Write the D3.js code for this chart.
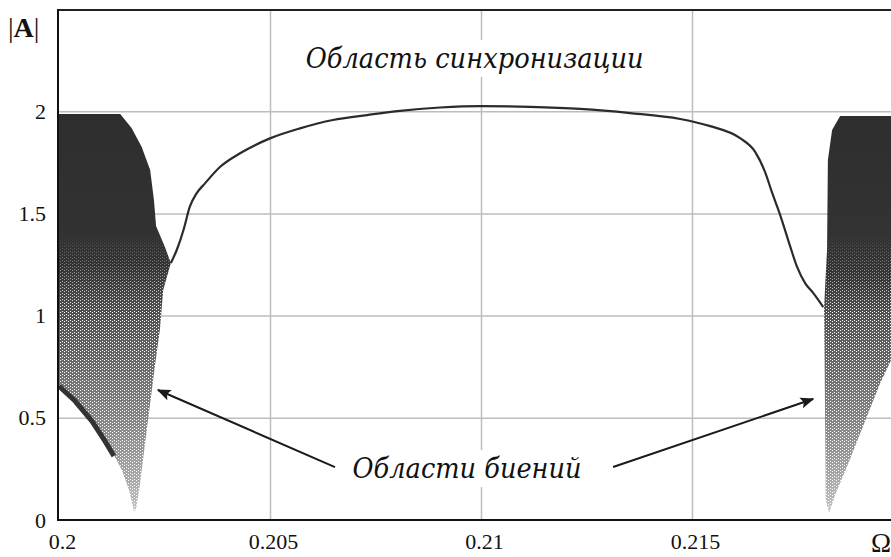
<!DOCTYPE html>
<html>
<head>
<meta charset="utf-8">
<script src="https://cdn.jsdelivr.net/npm/d3@7"></script>
<style>
  body { margin: 0; background: #fff; }
  text { font-family: "Liberation Serif", "DejaVu Serif", serif; }
</style>
</head>
<body>
<div id="chart"></div>
<script>
// synchronization branch |A|(Omega)
const syncOmega = [0.20265, 0.20279, 0.20295, 0.2031, 0.20326, 0.20346, 0.20382, 0.20429, 0.205, 0.20571,
  0.20649, 0.2073, 0.20808, 0.20903, 0.21, 0.21116, 0.21235, 0.21353, 0.21472, 0.21543,
  0.21614, 0.2165, 0.21673, 0.2169, 0.21709, 0.21733, 0.21749, 0.21768, 0.21787, 0.21811];
const syncAmp = [1.257, 1.321, 1.419, 1.533, 1.598, 1.647, 1.728, 1.794, 1.867, 1.916,
  1.957, 1.981, 2.002, 2.018, 2.025, 2.021, 2.011, 1.991, 1.962, 1.927,
  1.868, 1.8, 1.703, 1.6, 1.492, 1.336, 1.238, 1.159, 1.111, 1.042];

// outline of the left beating region (upper edge, right edge down, lower edge back)
const leftBeatOmega = [0.2, 0.20145, 0.20172, 0.20196, 0.20216, 0.20225, 0.2023, 0.20251, 0.20265,
  0.20247, 0.20239, 0.20227, 0.2022, 0.20211, 0.20199, 0.2019, 0.20183, 0.20178,
  0.20166, 0.20149, 0.2013, 0.20109, 0.20078, 0.20038, 0.2];
const leftBeatAmp = [1.986, 1.986, 1.918, 1.825, 1.712, 1.566, 1.438, 1.336, 1.257,
  1.125, 0.93, 0.75, 0.636, 0.489, 0.294, 0.147, 0.059, 0.04,
  0.147, 0.245, 0.318, 0.391, 0.489, 0.587, 0.66];
const leftLowerOmega = [0.2, 0.20038, 0.20078, 0.20109, 0.2013];
const leftLowerAmp = [0.655, 0.582, 0.484, 0.386, 0.313];

// outline of the right beating region
const rightBeatOmega = [0.21825, 0.21817, 0.21815, 0.21813, 0.2182, 0.21822, 0.21832, 0.21851, 0.2205,
  0.2205, 0.21972, 0.21946, 0.21914, 0.21867, 0.21839];
const rightBeatAmp = [0.034, 0.098, 0.587, 1.042, 1.321, 1.761, 1.908, 1.977, 1.977,
  0.95, 0.783, 0.67, 0.504, 0.259, 0.122];

const xTicks = [0.2, 0.205, 0.21, 0.215];
const yTicks = [0, 0.5, 1, 1.5, 2];
const xLabels = ["0.2", "0.205", "0.21", "0.215"];
const yLabels = ["0", "0.5", "1", "1.5", "2"];

const W = 891, H = 557;
const plotLeft = 59, plotTop = 9, plotBottom = 520;

const svg = d3.select("#chart").append("svg").attr("width", W).attr("height", H);

const x = d3.scaleLinear().domain([0.2, 0.22]).range([plotLeft, 903]);
const y = d3.scaleLinear().domain([0, 2.5]).range([plotBottom, plotTop]);

const defs = svg.append("defs");
defs.append("clipPath").attr("id", "plot")
  .append("rect").attr("x", plotLeft).attr("y", plotTop)
  .attr("width", W - plotLeft).attr("height", plotBottom - plotTop);

function gradient(id, stops) {
  const g = defs.append("linearGradient").attr("id", id)
    .attr("gradientUnits", "userSpaceOnUse")
    .attr("x1", 0).attr("x2", 0).attr("y1", y(2)).attr("y2", y(0));
  stops.forEach(function (s) {
    g.append("stop").attr("offset", (y(s[0]) - y(2)) / (y(0) - y(2))).attr("stop-color", s[1]);
  });
}
gradient("gLeft", [[2, "#2e2e2e"], [1.25, "#333"], [1.05, "#4c4c4c"], [0.8, "#666"], [0.5, "#858585"], [0.2, "#a8a8a8"], [0, "#cdcdcd"]]);
gradient("gRight", [[2, "#2e2e2e"], [1.2, "#343434"], [1.0, "#525252"], [0.7, "#6e6e6e"], [0.4, "#8e8e8e"], [0.15, "#b0b0b0"], [0, "#cdcdcd"]]);

// speckle overlay
const pat = defs.append("pattern").attr("id", "speck")
  .attr("patternUnits", "userSpaceOnUse").attr("width", 4).attr("height", 3);
pat.append("rect").attr("x", 0).attr("y", 0).attr("width", 1).attr("height", 1).attr("fill", "#fff");
pat.append("rect").attr("x", 2).attr("y", 2).attr("width", 1).attr("height", 1).attr("fill", "#fff");
const fade = defs.append("linearGradient").attr("id", "mFade")
  .attr("gradientUnits", "userSpaceOnUse")
  .attr("x1", 0).attr("x2", 0).attr("y1", y(1.4)).attr("y2", y(1.0));
fade.append("stop").attr("offset", 0).attr("stop-color", "#000");
fade.append("stop").attr("offset", 1).attr("stop-color", "#fff");
defs.append("mask").attr("id", "speckMask")
  .attr("maskUnits", "userSpaceOnUse").attr("x", 0).attr("y", 0).attr("width", W).attr("height", H)
  .append("rect").attr("x", 0).attr("y", 0).attr("width", W).attr("height", H).attr("fill", "url(#mFade)");

// grid
svg.append("g")
  .attr("transform", "translate(0," + plotBottom + ")")
  .call(d3.axisBottom(x).tickValues(xTicks.slice(1)).tickSize(-(plotBottom - plotTop)).tickFormat(""))
  .call(function (g) { g.select(".domain").remove(); })
  .selectAll("line").attr("stroke", "#bdbdbd").attr("stroke-width", 1.5);
svg.append("g")
  .attr("transform", "translate(" + plotLeft + ",0)")
  .call(d3.axisLeft(y).tickValues(yTicks.slice(1)).tickSize(-(W - plotLeft)).tickFormat(""))
  .call(function (g) { g.select(".domain").remove(); })
  .selectAll("line").attr("stroke", "#bdbdbd").attr("stroke-width", 1.5);

const plot = svg.append("g").attr("clip-path", "url(#plot)");
const line = d3.line().x(function (d) { return x(d[0]); }).y(function (d) { return y(d[1]); });

function region(om, am, grad) {
  const pts = d3.zip(om, am);
  plot.append("path").attr("d", line(pts) + "Z").attr("fill", "url(#" + grad + ")");
  plot.append("path").attr("d", line(pts) + "Z").attr("fill", "url(#speck)").attr("mask", "url(#speckMask)");
}
region(leftBeatOmega, leftBeatAmp, "gLeft");
region(rightBeatOmega, rightBeatAmp, "gRight");

plot.append("path")
  .attr("d", line(d3.zip(leftLowerOmega, leftLowerAmp)))
  .attr("fill", "none").attr("stroke", "#333").attr("stroke-width", 5);

plot.append("path")
  .attr("d", d3.line().curve(d3.curveMonotoneX)
    .x(function (d) { return x(d[0]); }).y(function (d) { return y(d[1]); })(d3.zip(syncOmega, syncAmp)))
  .attr("fill", "none").attr("stroke", "#2b2b2b").attr("stroke-width", 2.2);

// frame
svg.append("line").attr("x1", plotLeft - 1).attr("x2", W).attr("y1", plotTop + 1).attr("y2", plotTop + 1)
  .attr("stroke", "#222").attr("stroke-width", 2);

// axes
const xAxis = svg.append("g").attr("transform", "translate(0," + plotBottom + ")")
  .call(d3.axisBottom(x).tickValues(xTicks).tickSize(0).tickPadding(13)
    .tickFormat(function (d, i) { return xLabels[i]; }));
xAxis.select(".domain").attr("d", "M" + (plotLeft - 1) + ",0H" + W).attr("stroke", "#111").attr("stroke-width", 2);
xAxis.selectAll("text").attr("font-size", 22).attr("fill", "#111").attr("dx", 3)
  .style("font-family", "'Liberation Serif', serif");

const yAxis = svg.append("g").attr("transform", "translate(" + plotLeft + ",0)")
  .call(d3.axisLeft(y).tickValues(yTicks).tickSize(0).tickPadding(13)
    .tickFormat(function (d, i) { return yLabels[i]; }));
yAxis.select(".domain").attr("d", "M-1," + plotTop + "V" + (plotBottom + 1)).attr("stroke", "#111").attr("stroke-width", 2);
yAxis.selectAll("text").attr("font-size", 22).attr("fill", "#111")
  .style("font-family", "'Liberation Serif', serif");

// axis titles
const aLabel = svg.append("text").attr("x", 8).attr("y", 37).attr("font-size", 28).attr("fill", "#111");
aLabel.append("tspan").text("|");
aLabel.append("tspan").attr("font-weight", "bold").text("A");
aLabel.append("tspan").text("|");

svg.append("text").attr("x", 871).attr("y", 552).attr("font-size", 27).attr("fill", "#111").text("Ω");

// annotations
defs.append("marker").attr("id", "arrow").attr("viewBox", "0 0 10 10")
  .attr("refX", 9).attr("refY", 5).attr("markerWidth", 18).attr("markerHeight", 14)
  .attr("markerUnits", "userSpaceOnUse").attr("orient", "auto")
  .append("path").attr("d", "M0,1L10,5L0,9L2,5Z").attr("fill", "#1a1a1a");
const arrowTip = [[0.202346, 0.636], [0.21787, 0.592]];
const arrowTail = [[0.20654, 0.259], [0.21313, 0.259]];
arrowTip.forEach(function (t, i) {
  svg.append("line")
    .attr("x1", x(arrowTail[i][0])).attr("y1", y(arrowTail[i][1]))
    .attr("x2", x(t[0])).attr("y2", y(t[1]))
    .attr("stroke", "#1a1a1a").attr("stroke-width", 2)
    .attr("marker-end", "url(#arrow)");
});

function note(txt, cx, base, len) {
  const bg = svg.append("rect").attr("fill", "#fff");
  const t = svg.append("text")
    .attr("x", cx).attr("y", base)
    .attr("text-anchor", "middle")
    .attr("font-size", 28).attr("font-style", "italic").attr("fill", "#111")
    .attr("textLength", len).attr("lengthAdjust", "spacingAndGlyphs")
    .style("font-family", "'DejaVu Serif', serif")
    .text(txt);
  const b = t.node().getBBox();
  bg.attr("x", b.x - 8).attr("y", b.y - 2).attr("width", b.width + 16).attr("height", b.height + 4);
}
note("Область синхронизации", x(0.20985), y(2.211), 338);
note("Области биений", x(0.20967), y(0.205), 229);
</script>
</body>
</html>
